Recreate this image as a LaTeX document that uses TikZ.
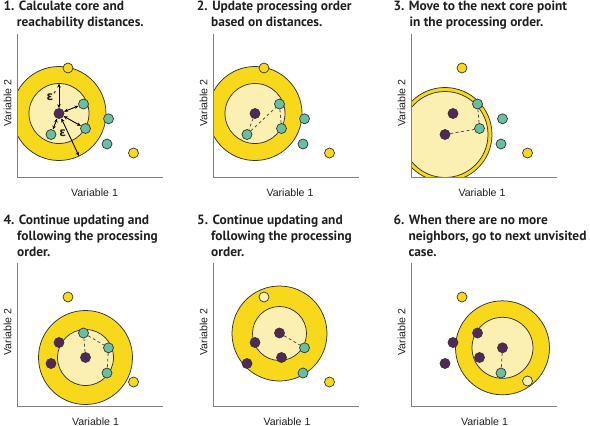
\documentclass[tikz,border=0pt]{standalone}
\usepackage{fontspec}
\setmainfont{Liberation Sans}
\newfontfamily\titlefont{PT Sans}
\newfontfamily\gkfont{DejaVu Sans}
\usetikzlibrary{arrows.meta}
\definecolor{ringY}{HTML}{F7D81A}
\definecolor{paleY}{HTML}{FCEFB2}
\definecolor{ptY}{HTML}{F7D81A}
\definecolor{tealpt}{HTML}{68C0A3}
\definecolor{purp}{HTML}{52285A}
\definecolor{edgec}{HTML}{333333}
\definecolor{axisc}{HTML}{808080}
\definecolor{txt}{HTML}{231F20}
\tikzset{
 pt/.style={circle, draw=edgec, line width=0.7pt, minimum size=10pt, inner sep=0pt},
 ypt/.style={pt, fill=ptY},
 opt/.style={pt, fill=paleY},
 tpt/.style={pt, fill=tealpt},
 ppt/.style={pt, fill=purp},
 ringfill/.style={fill=ringY, draw=edgec, line width=0.75pt},
 innerfill/.style={fill=paleY, draw=edgec, line width=0.75pt},
 axisline/.style={draw=axisc, line width=1.4pt},
 link/.style={draw=edgec!85, line width=0.8pt, dash pattern=on 3pt off 2.5pt},
 dist/.style={{Stealth[length=4pt,width=3.5pt]}-{Stealth[length=4pt,width=3.5pt]}, line width=0.9pt, black},
 titletext/.style={font=\titlefont\bfseries\fontsize{13.4}{16}\selectfont, text=txt, anchor=base west, inner sep=0pt},
 axlabel/.style={font=\fontsize{10.6}{12}\selectfont, text=txt, inner sep=0pt},
 epslabel/.style={font=\gkfont\bfseries\fontsize{12}{14}\selectfont, text=txt, inner sep=0pt},
}
\newcommand\panelaxes[2]{%
  \coordinate (#1top) at (17.5,33.5);
  \coordinate (#1org) at (17.5,177.5);
  \coordinate (#1end) at (163,177.5);
  \draw[axisline] (#1top) -- (#1org) -- (#1end);
  \node[axlabel] (#1xl) at (#2,192.5) {Variable 1};
  \node[axlabel, rotate=90] (#1yl) at (7.5,103) {Variable 2};
}
\newcommand\clipquad{\clip (17.5,0) rectangle (200,177.5);}
\begin{document}
\begin{tikzpicture}[x=1pt,y=-1pt]
\useasboundingbox (0,0) rectangle (590,426);

% ---------- titles ----------
\node[titletext] (t1a) at (3.3,10.7) {1. Calculate core and};
\node[titletext] (t1b) at (16.7,26.7) {reachability distances.};
\node[titletext] (t2a) at (196.7,10.7) {2. Update processing order};
\node[titletext] (t2b) at (211,26.7) {based on distances.};
\node[titletext] (t3a) at (393.3,10.7) {3. Move to the next core point};
\node[titletext] (t3b) at (409.3,26.7) {in the processing order.};
\node[titletext] (t4a) at (3.3,224.5) {4. Continue updating and};
\node[titletext] (t4b) at (17,240.5) {following the processing};
\node[titletext] (t4c) at (17,256.5) {order.};
\node[titletext] (t5a) at (197,224.5) {5. Continue updating and};
\node[titletext] (t5b) at (211,240.5) {following the processing};
\node[titletext] (t5c) at (211,256.5) {order.};
\node[titletext] (t6a) at (393.3,224.5) {6. When there are no more};
\node[titletext] (t6b) at (408.3,240.5) {neighbors, go to next unvisited};
\node[titletext] (t6c) at (408.3,256.5) {case.};

% ---------- panel 1 ----------
\begin{scope}[shift={(0,0)}]
  \begin{scope}\clipquad
    \draw[ringfill] (59,113.5) circle[radius=47];
    \draw[innerfill] (59,113.5) circle[radius=30];
  \end{scope}
  \panelaxes{p1}{94.5}
  \node[ypt] (p1Y1) at (68,68) {};
  \node[ppt] (p1A) at (59,113.5) {};
  \node[tpt] (p1B) at (83.5,104) {};
  \node[tpt] (p1C) at (85.5,128.5) {};
  \node[tpt] (p1D) at (51,134.5) {};
  \node[tpt] (p1E) at (108.5,118.8) {};
  \node[tpt] (p1F) at (107,144) {};
  \node[ypt] (p1Y2) at (133.5,153) {};
  \coordinate (p1epsA) at (59,83.5);
  \coordinate (p1epsB) at (79,156);
  \draw[dist] (p1A) -- (p1epsA);
  \draw[dist] (p1A) -- (p1epsB);
  \draw[dist] (p1A) -- (p1B);
  \draw[dist] (p1A) -- (p1C);
  \draw[dist] (p1A) -- (p1D);
  \node[epslabel] (p1e1) at (51.5,96.5) {ε′};
  \node[epslabel] (p1e2) at (62.7,133.3) {ε};
\end{scope}

% ---------- panel 2 ----------
\begin{scope}[shift={(196,0)}]
  \begin{scope}\clipquad
    \draw[ringfill] (59,113.5) circle[radius=47];
    \draw[innerfill] (59,113.5) circle[radius=30];
  \end{scope}
  \panelaxes{p2}{94}
  \node[ypt] (p2Y1) at (68,68) {};
  \node[ppt] (p2A) at (59,113.5) {};
  \node[tpt] (p2B) at (83.5,104) {};
  \node[tpt] (p2C) at (85.5,128.5) {};
  \node[tpt] (p2D) at (51,134.5) {};
  \node[tpt] (p2E) at (108.5,118.8) {};
  \node[tpt] (p2F) at (107,144) {};
  \node[ypt] (p2Y2) at (133.5,153) {};
  \draw[link] (p2A) -- (p2D);
  \draw[link] (p2D) -- (p2B);
  \draw[link] (p2B) -- (p2C);
\end{scope}

% ---------- panel 3 ----------
\begin{scope}[shift={(394,0)}]
  \begin{scope}\clipquad
    \draw[ringfill] (51,134.5) circle[radius=47];
    \draw[innerfill] (51,134.5) circle[radius=43];
  \end{scope}
  \panelaxes{p3}{88}
  \node[ypt] (p3Y1) at (68,68) {};
  \node[ppt] (p3A) at (59,113.5) {};
  \node[tpt] (p3B) at (83.5,104) {};
  \node[tpt] (p3C) at (85.5,128.5) {};
  \node[ppt] (p3D) at (51,134.5) {};
  \node[tpt] (p3E) at (108.5,118.8) {};
  \node[tpt] (p3F) at (107,144) {};
  \node[ypt] (p3Y2) at (133.5,153) {};
  \draw[link] (p3D) -- (p3C);
  \draw[link] (p3C) -- (p3B);
\end{scope}

% ---------- panel 4 ----------
\begin{scope}[shift={(0,229)}]
  \begin{scope}\clipquad
    \draw[ringfill] (85.5,128.5) circle[radius=47];
    \draw[innerfill] (85.5,128.5) circle[radius=28];
  \end{scope}
  \panelaxes{p4}{95.5}
  \node[ypt] (p4Y1) at (68,68) {};
  \node[ppt] (p4A) at (59,113.5) {};
  \node[tpt] (p4B) at (83.5,104) {};
  \node[ppt] (p4C) at (85.5,128.5) {};
  \node[ppt] (p4D) at (51,134.5) {};
  \node[tpt] (p4E) at (108.5,118.8) {};
  \node[tpt] (p4F) at (107,144) {};
  \node[ypt] (p4Y2) at (133.5,153) {};
  \draw[link] (p4C) -- (p4B);
  \draw[link] (p4B) -- (p4E);
  \draw[link] (p4E) -- (p4F);
\end{scope}

% ---------- panel 5 ----------
\begin{scope}[shift={(196,229)}]
  \begin{scope}\clipquad
    \draw[ringfill] (83.5,104.5) circle[radius=47.5];
    \draw[innerfill] (83.5,104.5) circle[radius=27];
  \end{scope}
  \panelaxes{p5}{91}
  \node[opt] (p5Y1) at (68,68) {};
  \node[ppt] (p5A) at (59,113.5) {};
  \node[ppt] (p5B) at (83.5,104) {};
  \node[ppt] (p5C) at (85.5,128.5) {};
  \node[ppt] (p5D) at (51,134.5) {};
  \node[tpt] (p5E) at (108.5,118.8) {};
  \node[tpt] (p5F) at (107,144) {};
  \node[ypt] (p5Y2) at (133.5,153) {};
  \draw[link] (p5B) -- (p5E);
\end{scope}

% ---------- panel 6 ----------
\begin{scope}[shift={(394,229)}]
  \begin{scope}\clipquad
    \draw[ringfill] (108.5,118.8) circle[radius=47];
    \draw[innerfill] (108.5,118.8) circle[radius=30.5];
  \end{scope}
  \panelaxes{p6}{90.5}
  \node[ypt] (p6Y1) at (68,68) {};
  \node[ppt] (p6A) at (59,113.5) {};
  \node[ppt] (p6B) at (83.5,104) {};
  \node[ppt] (p6C) at (85.5,128.5) {};
  \node[ppt] (p6D) at (51,134.5) {};
  \node[ppt] (p6E) at (108.5,118.8) {};
  \node[tpt] (p6F) at (107,144) {};
  \node[opt] (p6Y2) at (133.5,152) {};
  \draw[link] (p6E) -- (p6F);
\end{scope}
\end{tikzpicture}
\end{document}
